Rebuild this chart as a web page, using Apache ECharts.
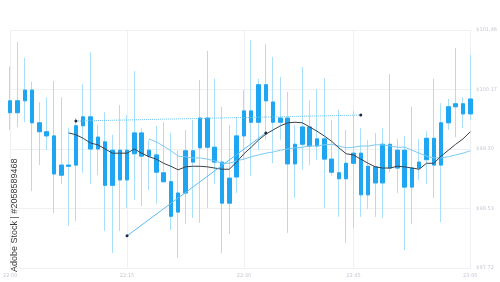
<!DOCTYPE html>
<html>
<head>
<meta charset="utf-8">
<script src="https://cdn.jsdelivr.net/npm/echarts@6/dist/echarts.min.js"></script>
<style>
html,body{margin:0;padding:0;background:#fff;}
#chart{width:500px;height:282px;}
</style>
</head>
<body>
<div id="chart"></div>
<script>
// candle values (i = 0..63)
var openVals  = [99.61,99.81,99.81,99.99,99.44,99.29,99.22,98.56,98.73,98.73,99.39,99.54,99.00,99.12,98.39,98.98,
                 98.48,98.92,99.27,98.88,98.90,98.60,98.45,97.94,98.26,98.97,99.02,99.52,99.03,98.78,98.09,98.53,
                 99.22,99.64,99.45,100.08,99.79,99.45,99.52,98.75,99.08,99.37,99.05,99.17,98.83,98.60,98.50,98.76,
                 98.93,98.23,98.70,98.43,99.08,98.68,98.98,98.36,98.68,98.82,98.73,98.73,99.44,99.71,99.76,99.59];
var closeVals = [99.81,99.61,99.99,99.44,99.29,99.22,98.58,98.73,98.71,99.39,99.54,99.00,99.20,98.39,98.98,98.48,
                 98.98,99.27,98.88,98.98,98.61,98.45,97.87,98.26,98.97,98.78,99.52,99.03,98.78,98.09,98.51,99.22,
                 99.64,99.45,100.08,99.81,99.45,99.52,98.75,99.08,99.37,99.05,99.17,98.83,98.61,98.50,98.76,98.93,
                 98.23,98.71,98.43,99.08,98.68,98.98,98.36,98.68,98.78,99.18,99.18,99.44,99.71,99.76,99.59,99.84];
var lowVals   = [99.32,99.37,99.45,98.29,98.73,98.98,97.92,98.41,97.71,97.79,98.60,98.41,98.56,97.62,97.25,97.62,
                 98.01,98.14,98.04,98.31,98.08,98.43,97.64,97.17,97.74,97.84,97.76,98.01,98.41,97.25,97.57,98.26,
                 98.82,98.55,98.98,99.15,98.76,99.15,97.59,98.18,98.65,98.73,98.82,98.01,98.55,97.86,97.42,97.67,
                 97.86,97.99,97.86,97.84,98.61,98.26,97.30,97.74,98.48,98.41,98.18,97.77,99.32,99.20,99.35,99.49];
var highVals  = [100.39,100.80,100.53,100.13,99.79,99.87,100.14,99.87,99.35,99.52,100.09,100.63,99.40,99.62,99.24,99.74,
                 99.57,100.31,99.35,99.15,99.39,99.45,99.27,98.98,99.32,99.49,100.16,100.65,100.18,99.71,99.40,99.54,
                 99.99,100.83,100.18,100.76,100.55,100.21,99.96,99.40,100.38,99.82,100.01,100.19,99.49,99.66,99.32,99.64,
                 99.35,99.15,99.27,99.35,100.26,99.17,99.22,99.71,99.17,99.30,100.18,99.77,99.84,100.70,99.87,100.58];

// dark moving average, starts at candle 8
var maDarkStart = 8;
var maDark = [99.27,99.24,99.18,99.10,99.07,99.00,98.93,98.93,98.93,99.00,98.93,98.87,98.83,98.76,98.71,98.65,
              98.70,98.71,98.71,98.70,98.68,98.66,98.66,98.78,98.92,99.03,99.15,99.25,99.32,99.39,99.44,99.45,
              99.44,99.37,99.30,99.22,99.13,99.02,98.92,98.90,98.83,98.76,98.70,98.68,98.68,98.71,98.70,98.68,
              98.66,98.76,98.76,98.88,98.98,99.08,99.17,99.29];
// light moving average, starts at candle 19
var maLightStart = 19;
var maLight = [99.17,99.12,99.05,98.97,98.88,98.87,98.85,98.85,98.83,98.80,98.76,98.76,98.80,98.83,98.87,98.90,
               98.93,98.95,98.98,99.00,99.02,99.03,99.05,99.05,99.07,99.08,99.05,99.02,99.03,99.05,99.05,99.07,
               99.07,99.05,99.03,99.03,98.98,98.93,98.88,98.85,98.85,98.87,98.90,98.93,98.97];

// drawn trend lines: [candle index, value]
var dottedLine = [[9, 99.47], [48, 99.57]];
var trendLine = [[16, 97.54], [35, 99.27]];

var xTickIndex = [0, 16, 32, 47, 63];
var xTickLabels = ['22:00', '22:15', '22:30', '22:45', '23:00'];
var yTickLabels = ['$97.72', '$98.53', '$99.30', '$100.17', '$101.46'];

var categories = [];
for (var i = 0; i < openVals.length; i++) categories.push(String(i));

var wickData = [], bodyData = [];
for (var i = 0; i < openVals.length; i++) {
    wickData.push([openVals[i], closeVals[i], lowVals[i], highVals[i]]);
    var lo = Math.min(openVals[i], closeVals[i]), hi = Math.max(openVals[i], closeVals[i]);
    bodyData.push([openVals[i], closeVals[i], lo, hi]);
}

function pad(start, vals) {
    var out = [];
    for (var i = 0; i < start; i++) out.push('-');
    return out.concat(vals);
}

var gridColor = '#eef0f4';
var labelColor = '#c4c8d4';
var wickColor = '#aadff9';
var bodyColor = '#1fa6f2';

var myChart = echarts.init(document.getElementById('chart'));
var option = {
    animation: false,
    backgroundColor: '#fff',
    grid: {left: 10, right: 28, top: 30, bottom: 14},
    xAxis: {
        type: 'category',
        data: categories,
        boundaryGap: false,
        axisLine: {show: true, lineStyle: {color: gridColor}},
        axisTick: {show: false},
        axisLabel: {
            interval: function (idx) { return xTickIndex.indexOf(idx) >= 0; },
            formatter: function (v, idx) { return xTickLabels[xTickIndex.indexOf(idx)] || ''; },
            color: labelColor, fontSize: 5, margin: 5, fontFamily: 'DejaVu Sans'
        },
        splitLine: {
            show: true,
            interval: function (idx) { return xTickIndex.indexOf(idx) >= 0; },
            lineStyle: {color: gridColor, width: 1}
        }
    },
    yAxis: {
        type: 'value',
        position: 'right',
        min: 97, max: 101, interval: 1,
        axisLine: {show: false},
        axisTick: {show: false},
        axisLabel: {
            formatter: function (v) { return yTickLabels[Math.round(v - 97)]; },
            color: labelColor, fontSize: 5, margin: 6, fontFamily: 'DejaVu Sans'
        },
        splitLine: {lineStyle: {color: gridColor, width: 1}}
    },
    graphic: [{
        type: 'text',
        x: 15, y: 272,
        rotation: Math.PI / 2,
        style: {
            text: 'Adobe Stock | #2058589468',
            fill: '#3a3a3a',
            font: '9px "Liberation Sans"',
            textAlign: 'left',
            textVerticalAlign: 'middle'
        },
        z: 100
    }],
    series: [
        {
            name: 'wick', type: 'candlestick', data: wickData, barWidth: 4, clip: false, z: 1,
            itemStyle: {color: wickColor, color0: wickColor, borderColor: wickColor, borderColor0: wickColor, borderWidth: 1}
        },
        {
            name: 'body', type: 'candlestick', data: bodyData, barWidth: 4, clip: false, z: 2,
            itemStyle: {color: bodyColor, color0: bodyColor, borderColor: bodyColor, borderColor0: bodyColor, borderWidth: 1}
        },
        {
            name: 'ma2', type: 'line', data: pad(maLightStart, maLight), showSymbol: false, z: 3,
            lineStyle: {color: '#7ccaf3', width: 1}
        },
        {
            name: 'ma1', type: 'line', data: pad(maDarkStart, maDark), showSymbol: false, z: 4,
            lineStyle: {color: '#3c4048', width: 1}
        },
        {
            name: 'dotted', type: 'line', data: dottedLine, symbol: 'circle', symbolSize: 3, z: 5,
            lineStyle: {color: '#6cc4f2', width: 1, type: 'dotted'},
            itemStyle: {color: '#1c2a44'}
        },
        {
            name: 'trend', type: 'line', data: trendLine, symbol: 'circle', symbolSize: 3, z: 5,
            lineStyle: {color: '#5cbdf2', width: 1},
            itemStyle: {color: '#1c2a44'}
        }
    ]
};
myChart.setOption(option);
</script>
</body>
</html>
